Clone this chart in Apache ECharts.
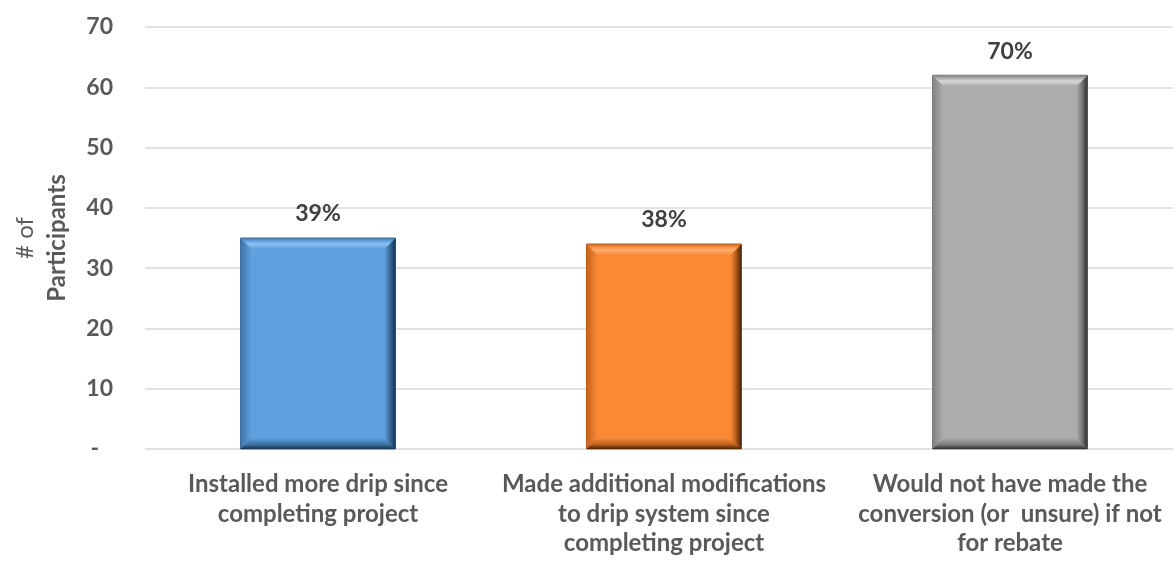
<!DOCTYPE html>
<html>
<head>
<meta charset="utf-8">
<script src="https://cdn.jsdelivr.net/npm/echarts@6/dist/echarts.min.js"></script>
<style>
  html, body { margin: 0; padding: 0; background: #ffffff; }
  #chart { width: 1173px; height: 561px; }
</style>
</head>
<body>
<div id="chart"></div>
<script>
// Survey responses: number of participants per follow-up action
const categories = [
  'Installed more drip since\ncompleting project',
  'Made additional modifications\nto drip system since\ncompleting project',
  'Would not have made the\nconversion (or  unsure) if not\nfor rebate'
];
const participants = [35, 34, 62];
const shareLabels = ['39%', '38%', '70%'];
const yMin = 0, yMax = 70, yStep = 10;

// Bevelled bar shading per category: face, highlight, shadow
const barShades = [
  { face: '#5fa0df', light: '#8cc0f0', dark: '#14324f', edge: '#3d6f9e' },
  { face: '#fa8935', light: '#ffb070', dark: '#4a2203', edge: '#b8601f' },
  { face: '#acacac', light: '#d6d6d6', dark: '#2e2e2e', edge: '#7c7c7c' }
];

const FONT = 'Lato, "Open Sans", sans-serif';
const FS = 23;
const BAR_W = 155;
const BEVEL = 11;

function grad(x, y, x2, y2, stops) {
  return new echarts.graphic.LinearGradient(x, y, x2, y2,
    stops.map(s => ({ offset: s[0], color: s[1] })));
}

function renderBar(params, api) {
  const idx = api.value(0);
  const val = api.value(1);
  const topPt = api.coord([idx, val]);
  const basePt = api.coord([idx, 0]);
  const s = barShades[idx];
  const x0 = topPt[0] - BAR_W / 2, x1 = topPt[0] + BAR_W / 2;
  const t = topPt[1], b = basePt[1];
  const k = BEVEL;
  return {
    type: 'group',
    children: [
      { type: 'rect', shape: { x: x0, y: t, width: BAR_W, height: b - t },
        style: { fill: s.face, stroke: s.edge, lineWidth: 1 } },
      // left bevel
      { type: 'polygon', shape: { points: [[x0, t], [x0 + k, t + k], [x0 + k, b - k], [x0, b]] },
        style: { fill: grad(0, 0, 1, 0, [[0, s.edge], [1, s.face]]), opacity: 0.9 } },
      // bottom bevel
      { type: 'polygon', shape: { points: [[x0, b], [x0 + k, b - k], [x1 - k, b - k], [x1, b]] },
        style: { fill: grad(0, 0, 0, 1, [[0, s.face], [0.6, s.edge], [1, s.dark]]) } },
      // right bevel
      { type: 'polygon', shape: { points: [[x1, t], [x1 - k, t + k], [x1 - k, b - k], [x1, b]] },
        style: { fill: grad(0, 0, 1, 0, [[0, s.face], [0.45, s.edge], [1, s.dark]]) } },
      // top bevel
      { type: 'polygon', shape: { points: [[x0, t], [x1, t], [x1 - k, t + k], [x0 + k, t + k]] },
        style: { fill: grad(0, 0, 0, 1, [[0, s.edge], [0.25, s.face], [0.55, s.light], [1, s.face]]) } },
      // value label above the bar
      { type: 'text', x: topPt[0], y: t - 24,
        style: { text: shareLabels[idx], fill: '#404040', font: 'bold ' + FS + 'px ' + FONT,
                 align: 'center', verticalAlign: 'middle' } }
    ]
  };
}

const chart = echarts.init(document.getElementById('chart'), null, { renderer: 'canvas' });
chart.setOption({
  animation: false,
  backgroundColor: '#ffffff',
  grid: { left: 145, right: -10, top: 27, bottom: 112, containLabel: false, outerBoundsMode: 'none' },
  xAxis: {
    type: 'category',
    data: categories,
    axisLine: { show: false },
    axisTick: { show: false },
    axisLabel: {
      margin: 21, color: '#595959', fontFamily: FONT, fontWeight: 'bold',
      fontSize: 24, lineHeight: 29.5, align: 'center', interval: 0
    }
  },
  yAxis: {
    type: 'value',
    min: yMin, max: yMax, interval: yStep,
    name: '{a|# of}\n{b|Participants}',
    nameLocation: 'middle',
    nameGap: 72,
    nameTextStyle: {
      color: '#595959', fontFamily: FONT, fontSize: 24, lineHeight: 32,
      rich: {
        a: { fontWeight: 'normal', fontSize: 24, fontFamily: FONT, color: '#595959', lineHeight: 32 },
        b: { fontWeight: 'bold', fontSize: 24, fontFamily: FONT, color: '#595959', lineHeight: 32 }
      }
    },
    axisLine: { show: false },
    axisTick: { show: false },
    axisLabel: {
      margin: 32, color: '#595959', fontFamily: FONT, fontWeight: 'bold', fontSize: FS,
      formatter: v => (v === 0 ? '{d|-}' : String(v)),
      rich: { d: { padding: [0, 14, 0, 0], fontWeight: 'bold', fontSize: FS, fontFamily: FONT, color: '#595959' } }
    },
    splitLine: { lineStyle: { color: '#d9d9d9', width: 1.5 } }
  },
  series: [{
    type: 'custom',
    renderItem: renderBar,
    encode: { x: 0, y: 1 },
    data: participants.map((v, i) => [i, v]),
    clip: false
  }]
});
</script>
</body>
</html>
